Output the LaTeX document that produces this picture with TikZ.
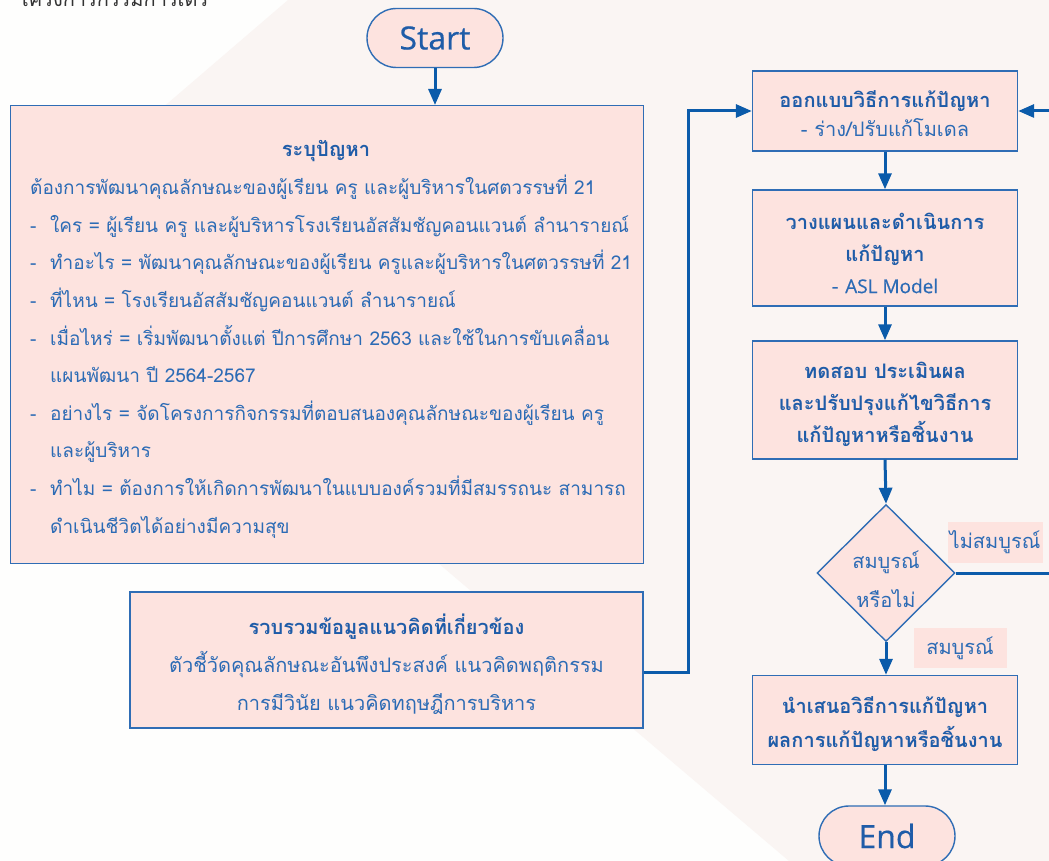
\documentclass[tikz,border=0pt]{standalone}
\usepackage{fontspec}
\newfontfamily\thai[Script=Thai]{Loma}
\newfontfamily\lat{Open Sans}[FakeBold=0.5]
\usetikzlibrary{arrows.meta,shapes.misc,shapes.geometric}
\definecolor{bgpink}{HTML}{FAF5F3}
\definecolor{bgwhite}{HTML}{FEFEFD}
\definecolor{boxfill}{HTML}{FDE3DF}
\definecolor{bordercol}{HTML}{2F6DB5}
\definecolor{arrowcol}{HTML}{0B5BAA}
\definecolor{txtcol}{HTML}{2C6BB5}
\definecolor{boldcol}{HTML}{1F5CA8}
\definecolor{topcol}{HTML}{333333}
\begin{document}
\begin{tikzpicture}[x=1pt,y=-1pt,
  box/.style={draw=bordercol, line width=1.4pt, fill=boxfill, inner sep=0pt},
  btxt/.style={inner sep=0pt, align=center, text=txtcol},
  pill/.style={rounded rectangle, draw=bordercol, line width=1.4pt, fill=boxfill, inner sep=0pt, text=boldcol, font=\lat\fontsize{32}{38}\selectfont},
  tag/.style={fill=boxfill, inner sep=0pt, text=txtcol, font=\thai\fontsize{20}{24}\selectfont},
  arr/.style={draw=arrowcol, line width=3pt, -{Triangle[length=16pt,width=13pt]}},
  bodyf/.style={font=\thai\fontsize{19}{37.6}\selectfont}
]
\useasboundingbox (0,0) rectangle (1049,861);
\fill[bgwhite] (0,0) rectangle (1049,861);
\fill[bgpink] (288,0) -- (1049,0) -- (1049,861) -- (789,861) -- (33,219) -- cycle;

% partial text at top
\node[anchor=base west, inner sep=0pt, text=topcol, font=\thai\fontsize{20}{24}\selectfont] (toptxt) at (18,7) {โครงการกรรมการเดร};

% Start
\node[pill, minimum width=136pt, minimum height=59pt] (start) at (435,38) {Start};

% problem box
\node[box, anchor=north west, minimum width=633pt, minimum height=458pt] (prob) at (10,105) {};
\node[anchor=center, inner sep=0pt, text=boldcol, font=\thai\bfseries\fontsize{20}{24}\selectfont] (probtitle) at (326,151) {ระบุปัญหา};
\node[anchor=north west, inner sep=0pt, align=left, text=txtcol, bodyf] (problist) at (30,175) {%
ต้องการพัฒนาคุณลักษณะของผู้เรียน ครู และผู้บริหารในศตวรรษที่ 21\\
\makebox[20pt][l]{-}ใคร = ผู้เรียน ครู และผู้บริหารโรงเรียนอัสสัมชัญคอนแวนต์ ลำนารายณ์\\
\makebox[20pt][l]{-}ทำอะไร = พัฒนาคุณลักษณะของผู้เรียน ครูและผู้บริหารในศตวรรษที่ 21\\
\makebox[20pt][l]{-}ที่ไหน = โรงเรียนอัสสัมชัญคอนแวนต์ ลำนารายณ์\\
\makebox[20pt][l]{-}เมื่อไหร่ = เริ่มพัฒนาตั้งแต่ ปีการศึกษา 2563 และใช้ในการขับเคลื่อน\\
\hspace*{20pt}แผนพัฒนา ปี 2564-2567\\
\makebox[20pt][l]{-}อย่างไร = จัดโครงการกิจกรรมที่ตอบสนองคุณลักษณะของผู้เรียน ครู\\
\hspace*{20pt}และผู้บริหาร\\
\makebox[20pt][l]{-}ทำไม = ต้องการให้เกิดการพัฒนาในแบบองค์รวมที่มีสมรรถนะ สามารถ\\
\hspace*{20pt}ดำเนินชีวิตได้อย่างมีความสุข};

% gather box
\node[box, minimum width=513pt, minimum height=136pt] (gather) at (386.5,660) {};
\node[btxt, font=\thai\fontsize{20}{38}\selectfont] (gatherT) at (386.5,664) {%
\textcolor{boldcol}{\bfseries รวบรวมข้อมูลแนวคิดที่เกี่ยวข้อง}\\
ตัวชี้วัดคุณลักษณะอันพึงประสงค์ แนวคิดพฤติกรรม\\
การมีวินัย แนวคิดทฤษฎีการบริหาร};

% right column
\node[box, minimum width=265pt, minimum height=80pt] (design) at (885,111) {};
\node[btxt, font=\thai\fontsize{20}{29}\selectfont] (designT) at (885,114) {%
\textcolor{boldcol}{\bfseries ออกแบบวิธีการแก้ปัญหา}\\
- ร่าง/ปรับแก้โมเดล};
\node[box, minimum width=265pt, minimum height=116pt] (plan) at (885,248) {};
\node[btxt, font=\thai\fontsize{20}{32}\selectfont] (planT) at (885,253) {%
\textcolor{boldcol}{\bfseries วางแผนและดำเนินการ}\\
\textcolor{boldcol}{\bfseries แก้ปัญหา}\\
- {\lat\fontsize{19}{32}\selectfont ASL Model}};
\node[box, minimum width=265pt, minimum height=118pt] (test) at (885,400) {};
\node[btxt, text=boldcol, font=\thai\bfseries\fontsize{20}{32}\selectfont] (testT) at (885,404) {%
ทดสอบ ประเมินผล\\
และปรับปรุงแก้ไขวิธีการ\\
แก้ปัญหาหรือชิ้นงาน};
\node[diamond, draw=bordercol, line width=1.4pt, fill=boxfill, inner sep=0pt, minimum width=138pt, minimum height=137pt] (dia) at (886,573) {};
\node[btxt, font=\thai\fontsize{20}{39}\selectfont] (diaT) at (886,579.5) {สมบูรณ์\\หรือไม่};
\node[tag, minimum width=95pt, minimum height=41pt] (tagno) at (995,542) {ไม่สมบูรณ์};
\node[tag, minimum width=93pt, minimum height=40pt] (tagyes) at (960,648) {สมบูรณ์};
\node[box, minimum width=265pt, minimum height=89pt] (present) at (885,720) {};
\node[btxt, text=boldcol, font=\thai\bfseries\fontsize{20}{34}\selectfont] (presentT) at (885,724) {%
นำเสนอวิธีการแก้ปัญหา\\
ผลการแก้ปัญหาหรือชิ้นงาน};
\node[pill, minimum width=136pt, minimum height=60pt] (endnode) at (887,836) {End};

% connectors
\coordinate (gy) at (0,672);
\coordinate (jx) at (688,0);
\coordinate (rx) at (1070,0);
\draw[arr] (start.south) -- (start.south |- prob.north);
\draw[arr] (gather.east |- gy) -| (jx |- design.west) -- (design.west);
\draw[arr] (design.south) -- (plan.north);
\draw[arr] (plan.south) -- (test.north);
\draw[arr] (test.south) -- (dia.north);
\draw[arr] (dia.south) -- (dia.south |- present.north);
\draw[arr] (present.south) -- (present.south |- endnode.north);
\draw[arr] (dia.east) -| (rx |- design.east) -- (design.east);
\end{tikzpicture}
\end{document}
